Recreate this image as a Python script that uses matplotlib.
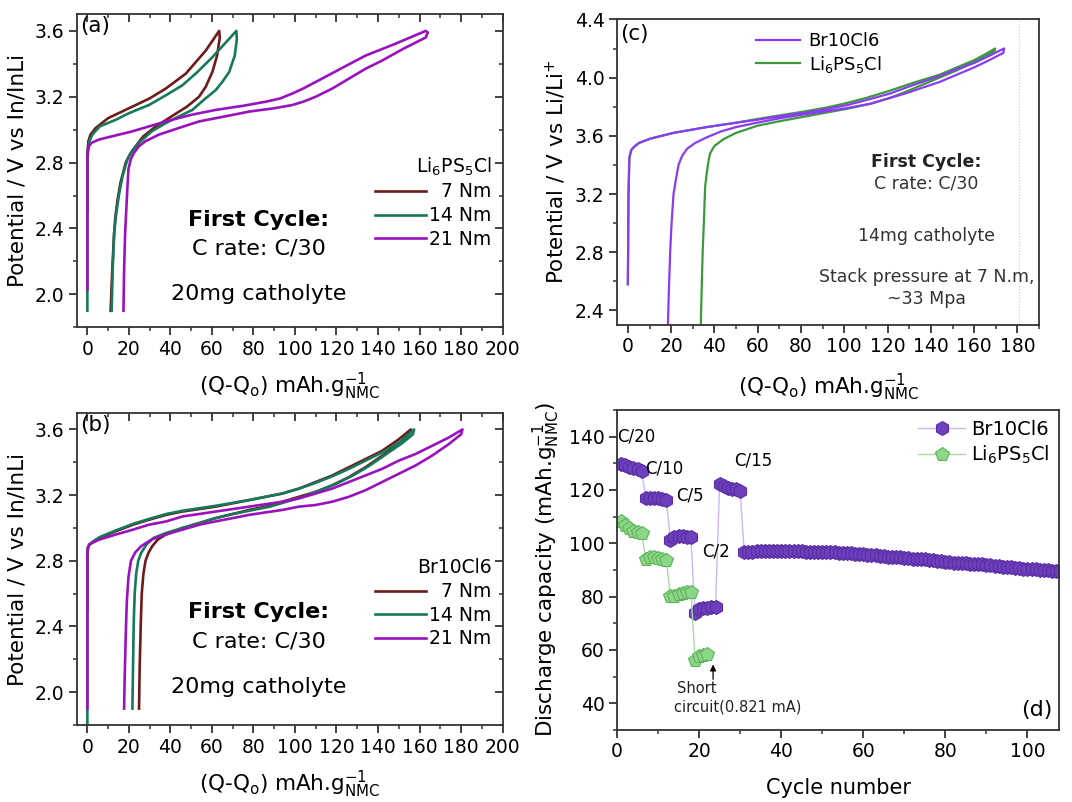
import numpy as np
import matplotlib
matplotlib.use("Agg")
import matplotlib.pyplot as plt
import matplotlib.lines as mlines
from matplotlib.ticker import MultipleLocator, FormatStrFormatter

plt.rcParams['font.family'] = ['DejaVu Sans']
plt.rcParams['mathtext.fontset'] = 'dejavusans'

# ---------------- data: panel (a) Li6PS5Cl, first cycle ----------------
a7_q = [0, 0, 0.5, 1.5, 4, 10, 21.7, 30, 37.8, 47.4, 57, 63.5,
        63.8, 62.5, 60.2, 57, 53.8, 48, 44.2, 38, 33, 27, 23.3, 20.5, 18.5, 16, 14.5, 13.5, 12.9, 12, 11.2]
a7_v = [2.5, 2.85, 2.93, 2.97, 3.01, 3.07, 3.14, 3.19, 3.25, 3.34, 3.48, 3.6,
        3.56, 3.45, 3.35, 3.26, 3.2, 3.14, 3.11, 3.06, 3.02, 2.96, 2.9, 2.85, 2.8, 2.68, 2.57, 2.47, 2.37, 2.15, 1.9]
a14_q = [0, 0, 0.3, 1, 2.4, 6, 13.7, 20, 29.7, 38, 45.8, 53, 60.2, 66, 71.8,
         72, 71, 68.3, 65, 61.8, 56, 50.6, 44, 37.8, 31, 24.9, 21.5, 19.3, 17, 15.3, 13.8, 12.9, 12.2, 11.7]
a14_v = [1.9, 2.8, 2.88, 2.93, 2.97, 3.02, 3.06, 3.1, 3.15, 3.21, 3.27, 3.35, 3.44, 3.52, 3.6,
         3.55, 3.45, 3.35, 3.29, 3.24, 3.18, 3.12, 3.08, 3.04, 2.99, 2.92, 2.87, 2.82, 2.72, 2.61, 2.48, 2.37, 2.15, 1.9]
a21_q = [0, 0, 0.3, 0.8, 2, 5.6, 12, 21.7, 37.8, 50, 61.8, 75, 86, 93, 98.8, 104, 110, 122, 134, 148, 163,
         164, 163, 152, 142, 134, 126, 118, 110, 104, 98.8, 90, 78, 66, 53.8, 44, 34.5, 28, 24.9, 22.5,
         20.9, 19.8, 19.3, 18.7, 18.2, 17.7, 17.4]
a21_v = [2.03, 2.82, 2.87, 2.9, 2.92, 2.94, 2.96, 2.99, 3.05, 3.09, 3.12, 3.145, 3.17, 3.19, 3.22, 3.25, 3.29, 3.37, 3.45, 3.52, 3.6,
         3.59, 3.56, 3.49, 3.42, 3.37, 3.31, 3.25, 3.2, 3.17, 3.15, 3.13, 3.11, 3.08, 3.05, 3.01, 2.97, 2.93, 2.9, 2.86,
         2.82, 2.76, 2.65, 2.5, 2.37, 2.15, 1.9]

# ---------------- data: panel (b) Br10Cl6, first cycle ----------------
b7_q = [0, 0, 0.3, 1, 2.4, 6, 13.7, 22, 29.7, 38, 45.8, 61.8, 78, 94, 102, 110, 118, 126, 134, 142, 150, 155.8,
        155, 150, 142, 134, 126, 118, 110, 102, 94, 86, 78, 70, 61.8, 54, 45.8, 37.8, 34, 31.3, 29.5, 28, 27,
        26.2, 25.7, 25.2, 24.9]
b7_v = [2.5, 2.84, 2.88, 2.9, 2.91, 2.94, 2.98, 3.02, 3.05, 3.08, 3.1, 3.13, 3.17, 3.21, 3.24, 3.28, 3.32, 3.37, 3.42, 3.47, 3.54, 3.6,
        3.57, 3.51, 3.44, 3.37, 3.31, 3.26, 3.22, 3.19, 3.16, 3.13, 3.11, 3.085, 3.06, 3.03, 3.0, 2.96, 2.93, 2.89, 2.85, 2.8, 2.72,
        2.6, 2.4, 2.15, 1.9]
b14_q = [0, 0, 0.3, 1, 2.4, 6, 13.7, 22, 29.7, 38, 45.8, 61.8, 78, 94, 102, 110, 118, 126, 134, 142, 150, 157.4,
         156.8, 152, 144, 136, 128, 120, 112, 104, 96, 88, 80, 70, 61.8, 54, 45.8, 38, 32, 28.5, 26, 24.5, 23.5,
         22.8, 22.3, 22, 21.7]
b14_v = [1.8, 2.84, 2.88, 2.9, 2.915, 2.945, 2.985, 3.025, 3.055, 3.085, 3.105, 3.135, 3.17, 3.21, 3.24, 3.275, 3.315, 3.36, 3.41, 3.46, 3.52, 3.6,
         3.57, 3.52, 3.45, 3.38, 3.32, 3.27, 3.23, 3.19, 3.16, 3.13, 3.11, 3.085, 3.06, 3.03, 3.0, 2.97, 2.94, 2.9, 2.85, 2.8, 2.72,
         2.6, 2.4, 2.15, 1.9]
b21_q = [0, 0, 0.3, 1, 2.4, 6, 13.7, 22, 29.7, 38, 45.8, 61.8, 78, 94, 102, 110, 118, 126, 134, 142, 150, 158, 166, 174, 180.7,
         180, 174, 166, 158, 150, 142, 134, 126, 118, 110, 102, 94, 86, 78, 70, 61.8, 54, 45.8, 37.8, 31, 26, 23, 21,
         19.8, 19, 18.5, 18, 17.7]
b21_v = [1.9, 2.84, 2.88, 2.9, 2.91, 2.93, 2.96, 2.99, 3.02, 3.04, 3.07, 3.1, 3.13, 3.16, 3.18, 3.21, 3.24, 3.28, 3.32, 3.36, 3.41, 3.45, 3.5, 3.55, 3.6,
         3.57, 3.51, 3.44, 3.38, 3.33, 3.28, 3.23, 3.19, 3.16, 3.14, 3.13, 3.11, 3.095, 3.08, 3.06, 3.04, 3.02, 2.99, 2.96, 2.93, 2.89, 2.85, 2.8,
         2.7, 2.55, 2.35, 2.1, 1.9]

# ---------------- data: panel (c) first cycle vs Li/Li+ ----------------
cBr_q = [0, 0.3, 0.7, 1.5, 2.6, 5, 10.3, 21, 36.5, 50, 59.6, 70, 82.7, 92, 101, 110, 121, 132, 144, 152, 160, 167, 173.8,
         173.5, 167, 160, 152, 144, 136, 128, 121, 112, 101, 90, 82.7, 70, 59.6, 50, 43, 36.5, 31, 27.3, 25, 23.4,
         22.2, 21.1, 20.2, 19.6, 19, 18.5]
cBr_v = [2.58, 3.2, 3.45, 3.5, 3.52, 3.55, 3.58, 3.62, 3.66, 3.69, 3.71, 3.735, 3.76, 3.785, 3.81, 3.845, 3.89, 3.95, 4.01, 4.06, 4.1, 4.15, 4.2,
         4.17, 4.12, 4.07, 4.02, 3.97, 3.93, 3.89, 3.86, 3.82, 3.79, 3.765, 3.75, 3.72, 3.69, 3.66, 3.63, 3.59, 3.55, 3.51, 3.46, 3.4,
         3.3, 3.2, 3.0, 2.82, 2.56, 2.3]
cLi_q = [0, 0.3, 0.7, 1.5, 2.6, 5, 10.3, 21, 36.5, 50, 59.6, 70, 82.7, 92, 101, 110, 121, 132, 144, 152, 160, 165, 169.7,
         169.4, 162, 152, 144, 136, 128, 121, 112, 101, 90, 82.7, 70, 60, 50, 44, 40, 38, 37.3,
         36.5, 35.7, 35.1, 34.6, 34.1, 33.7]
cLi_v = [2.58, 3.2, 3.45, 3.5, 3.52, 3.55, 3.58, 3.62, 3.66, 3.69, 3.715, 3.74, 3.77, 3.795, 3.825, 3.86, 3.91, 3.965, 4.02, 4.07, 4.12, 4.16, 4.2,
         4.18, 4.12, 4.05, 4.0, 3.95, 3.9, 3.86, 3.82, 3.785, 3.755, 3.735, 3.7, 3.67, 3.62, 3.575, 3.53, 3.48, 3.43,
         3.35, 3.25, 3.0, 2.82, 2.55, 2.3]

# ---------------- data: panel (d) rate capability ----------------
br_cap = [129.8, 129.4, 128.8, 128.3, 127.8, 127.0,
          117.0, 117.1, 117.0, 116.9, 116.7, 116.4,
          101.4, 102.3, 102.6, 102.6, 102.5, 102.2,
          73.7, 75.2, 75.7, 75.9, 76.1, 76.3,
          122.3, 121.6, 120.8, 120.4, 120.3, 119.6,
          96.6, 96.8, 96.9, 97.0, 97.0, 97.1, 97.1, 97.1, 97.1, 97.1,
          97.1, 97.0, 97.0, 97.0, 97.0, 96.9, 96.9, 96.9, 96.8, 96.8,
          96.7, 96.7, 96.6, 96.5, 96.4, 96.3, 96.2, 96.1, 96.0, 95.9,
          95.8, 95.7, 95.5, 95.3, 95.1, 95.0, 94.9, 94.8, 94.7, 94.6,
          94.4, 94.3, 94.2, 94.1, 94.0, 93.8, 93.6, 93.4, 93.2, 93.0,
          92.9, 92.8, 92.7, 92.6, 92.5, 92.4, 92.3, 92.2, 92.1, 92.0,
          91.8, 91.6, 91.5, 91.3, 91.1, 91.0, 90.8, 90.6, 90.5, 90.4,
          90.3, 90.2, 90.1, 90.0, 89.9, 89.8, 89.6, 89.5]
li_cap = [108.2, 107.0, 105.6, 104.8, 104.3, 103.8,
          94.0, 94.8, 94.7, 94.5, 94.3, 93.9,
          80.2, 80.1, 81.0, 81.3, 81.6, 81.9,
          56.3, 57.8, 58.3, 58.6]
br_cycles = list(range(1, len(br_cap) + 1))
li_cycles = list(range(1, len(li_cap) + 1))
rate_labels = ['C/20', 'C/10', 'C/5', 'C/2', 'C/15']
rate_label_x = [4.6, 11.6, 17.7, 24.2, 33.2]
rate_label_y = [140, 127.9, 118, 97, 131]

# ---------------- styling ----------------
C_BROWN = '#6e1b1b'
C_TEAL = '#17785a'
C_MAG = '#9a12bd'
C_VIOLET = '#8a3cf5'
C_GREEN = '#3b9a3b'
SPINE = '#333333'
TICK_FS = 13.5
LAB_FS = 15.5
TXT_FS = 16

fig = plt.figure(figsize=(10.72, 8.02), dpi=100)
fig.patch.set_facecolor('white')

ax_a = fig.add_axes([0.0718, 0.592, 0.397, 0.390])
ax_b = fig.add_axes([0.0718, 0.096, 0.397, 0.389])
ax_c = fig.add_axes([0.5756, 0.5948, 0.3937, 0.381])
ax_d = fig.add_axes([0.5756, 0.0898, 0.4123, 0.399])


def set_ticks(axis, major, minor):
    axis.set_major_locator(MultipleLocator(major))
    axis.set_minor_locator(MultipleLocator(minor))


def style_axes(ax, mirror=False):
    for s in ax.spines.values():
        s.set_color(SPINE)
        s.set_linewidth(1.3)
    ax.tick_params(which='both', direction='out', colors=SPINE, labelcolor='black',
                   labelsize=TICK_FS, top=mirror, right=mirror, labeltop=False, labelright=False)
    ax.tick_params(which='major', length=5.5, width=1.3)
    ax.tick_params(which='minor', length=3.2, width=1.1)


def make_mirror_inward(ax):
    # top / right ticks point into the axes (bottom / left point outward)
    for t in ax.xaxis.get_major_ticks() + ax.xaxis.get_minor_ticks():
        t.tick2line.set_marker(mlines.TICKDOWN)
    for t in ax.yaxis.get_major_ticks() + ax.yaxis.get_minor_ticks():
        t.tick2line.set_marker(mlines.TICKLEFT)


xlab_q = r'(Q-Q$_\mathrm{o}$) mAh.g$^{-1}_{\mathrm{NMC}}$'

# ---- panel (a)
for q, v, c, lab in ((a7_q, a7_v, C_BROWN, '  7 Nm'), (a14_q, a14_v, C_TEAL, '14 Nm'),
                     (a21_q, a21_v, C_MAG, '21 Nm')):
    ax_a.plot(q, v, color=c, lw=1.9, label=lab, solid_joinstyle='round')
ax_a.set_xlim(-5, 200)
ax_a.set_ylim(1.8, 3.7)
set_ticks(ax_a.xaxis, 20, 10)
set_ticks(ax_a.yaxis, 0.4, 0.2)
ax_a.yaxis.set_major_formatter(FormatStrFormatter('%.1f'))
style_axes(ax_a, mirror=True)
ax_a.set_ylabel('Potential / V vs In/InLi', fontsize=LAB_FS, labelpad=5)
ax_a.set_xlabel(xlab_q, fontsize=LAB_FS, labelpad=9)
ax_a.text(0.008, 0.995, '(a)', transform=ax_a.transAxes, ha='left', va='top', fontsize=15.5)
leg = ax_a.legend(title=r'Li$_6$PS$_5$Cl', loc='upper right', bbox_to_anchor=(1.0, 0.585),
                  frameon=False, fontsize=TICK_FS, title_fontsize=TICK_FS, handlelength=2.7,
                  handletextpad=0.15, labelspacing=0.25, borderaxespad=0.2, alignment='right')
for t in leg.get_texts():
    t.set_ha('right')
ax_a.text(82.7, 2.45, 'First Cycle:', fontsize=TXT_FS, fontweight='bold', ha='center', va='center')
ax_a.text(82.7, 2.28, 'C rate: C/30', fontsize=TXT_FS, ha='center', va='center')
ax_a.text(82.7, 2.0, '20mg catholyte', fontsize=TXT_FS, ha='center', va='center')

# ---- panel (b)
for q, v, c, lab in ((b7_q, b7_v, C_BROWN, '  7 Nm'), (b14_q, b14_v, C_TEAL, '14 Nm'),
                     (b21_q, b21_v, C_MAG, '21 Nm')):
    ax_b.plot(q, v, color=c, lw=1.9, label=lab, solid_joinstyle='round')
ax_b.set_xlim(-5, 200)
ax_b.set_ylim(1.8, 3.7)
set_ticks(ax_b.xaxis, 20, 10)
set_ticks(ax_b.yaxis, 0.4, 0.2)
ax_b.yaxis.set_major_formatter(FormatStrFormatter('%.1f'))
style_axes(ax_b, mirror=True)
ax_b.set_ylabel('Potential / V vs In/InLi', fontsize=LAB_FS, labelpad=5)
ax_b.set_xlabel(xlab_q, fontsize=LAB_FS, labelpad=9)
ax_b.text(0.008, 0.995, '(b)', transform=ax_b.transAxes, ha='left', va='top', fontsize=15.5)
leg = ax_b.legend(title='Br10Cl6', loc='upper right', bbox_to_anchor=(1.0, 0.57),
                  frameon=False, fontsize=TICK_FS, title_fontsize=TICK_FS, handlelength=2.7,
                  handletextpad=0.15, labelspacing=0.25, borderaxespad=0.2, alignment='right')
for t in leg.get_texts():
    t.set_ha('right')
ax_b.text(82.7, 2.49, 'First Cycle:', fontsize=TXT_FS, fontweight='bold', ha='center', va='center')
ax_b.text(82.7, 2.31, 'C rate: C/30', fontsize=TXT_FS, ha='center', va='center')
ax_b.text(82.7, 2.03, '20mg catholyte', fontsize=TXT_FS, ha='center', va='center')

# ---- panel (c)
hLi, = ax_c.plot(cLi_q, cLi_v, color=C_GREEN, lw=1.6, label=r'Li$_6$PS$_5$Cl')
hBr, = ax_c.plot(cBr_q, cBr_v, color=C_VIOLET, lw=1.6, label='Br10Cl6')
ax_c.axvline(180.8, color='#c8c8c8', lw=0.8, ls=':')
ax_c.set_xlim(-5, 190)
ax_c.set_ylim(2.3, 4.4)
set_ticks(ax_c.xaxis, 20, 10)
set_ticks(ax_c.yaxis, 0.4, 0.2)
ax_c.yaxis.set_major_formatter(FormatStrFormatter('%.1f'))
style_axes(ax_c)
ax_c.set_ylabel(r'Potential / V vs Li/Li$^{+}$', fontsize=LAB_FS, labelpad=5)
ax_c.set_xlabel(xlab_q, fontsize=LAB_FS, labelpad=11)
ax_c.text(0.008, 0.985, '(c)', transform=ax_c.transAxes, ha='left', va='top', fontsize=15.5)
ax_c.legend(handles=[hBr, hLi], loc='upper left', bbox_to_anchor=(0.3, 1.0), frameon=False, fontsize=13,
            handlelength=2.4, handletextpad=0.5, labelspacing=0.2, borderaxespad=0.3)
ax_c.text(138, 3.42, 'First Cycle:', fontsize=12.5, fontweight='bold', ha='center', va='center', color='#222222')
ax_c.text(138, 3.27, 'C rate: C/30', fontsize=12.5, ha='center', va='center', color='#333333')
ax_c.text(138, 2.91, '14mg catholyte', fontsize=12.5, ha='center', va='center', color='#333333')
ax_c.text(138, 2.63, 'Stack pressure at 7 N.m,', fontsize=12.5, ha='center', va='center', color='#333333')
ax_c.text(138, 2.48, '~33 Mpa', fontsize=12.5, ha='center', va='center', color='#333333')

# ---- panel (d)
ax_d.plot(br_cycles, br_cap, color='#cbb8ef', lw=1.0, marker='h', ms=10,
          markerfacecolor='#6d3fbd', markeredgecolor='#5a2fa3', markeredgewidth=0.8, label='Br10Cl6')
ax_d.plot(li_cycles, li_cap, color='#a9daa3', lw=1.0, marker='p', ms=10,
          markerfacecolor='#8bd687', markeredgecolor='#5fb35b', markeredgewidth=0.8, label=r'Li$_6$PS$_5$Cl')
ax_d.set_xlim(0, 107.7)
ax_d.set_ylim(30, 150)
set_ticks(ax_d.xaxis, 20, 10)
set_ticks(ax_d.yaxis, 20, 10)
ax_d.set_yticks([40, 60, 80, 100, 120, 140])
style_axes(ax_d)
ax_d.set_ylabel(r'Discharge capacity (mAh.g$^{-1}_{\mathrm{NMC}}$)', fontsize=LAB_FS, labelpad=5)
ax_d.set_xlabel('Cycle number', fontsize=15, labelpad=12)
for lab, x, y in zip(rate_labels, rate_label_x, rate_label_y):
    ax_d.text(x, y, lab, fontsize=12, ha='center', va='center')
ax_d.annotate('', xy=(23.4, 55.6), xytext=(23.4, 48.0),
              arrowprops=dict(arrowstyle='-|>', color='black', lw=0.9, mutation_scale=9))
ax_d.text(14.5, 45.7, 'Short', fontsize=10.5, ha='left', va='center', color='#222222')
ax_d.text(14.0, 38.6, 'circuit(0.821 mA)', fontsize=10.5, ha='left', va='center', color='#222222')
ax_d.text(0.985, 0.03, '(d)', transform=ax_d.transAxes, ha='right', va='bottom', fontsize=16)
ax_d.legend(loc='upper right', frameon=False, fontsize=14, handlelength=2.4, handletextpad=0.3,
            labelspacing=0.25, borderaxespad=0.1)

# create all tick objects, then flip the mirrored ones inward
fig.canvas.draw()
make_mirror_inward(ax_a)
make_mirror_inward(ax_b)

fig.savefig('out.png', dpi=100, facecolor='white')
